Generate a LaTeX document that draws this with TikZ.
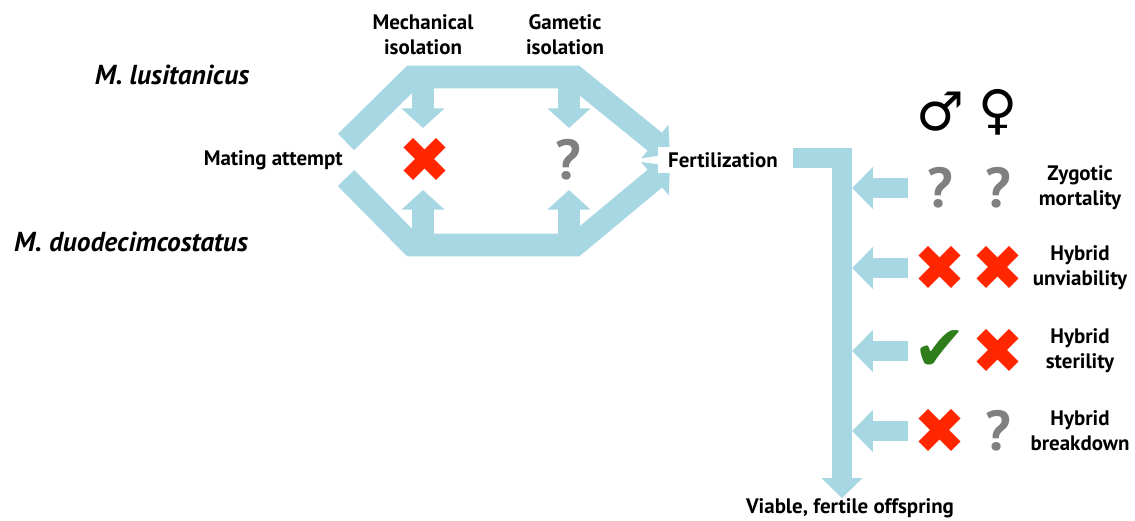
\documentclass[tikz,border=0pt]{standalone}
\usepackage{fontspec}
\setmainfont{PT Sans}
\newfontfamily\symfont{DejaVu Sans}
\usetikzlibrary{arrows.meta}
\definecolor{bandblue}{RGB}{166,215,227}
\definecolor{nored}{RGB}{255,38,0}
\definecolor{qgray}{RGB}{128,128,128}
\definecolor{okgreen}{RGB}{46,125,26}

\begin{document}
\begin{tikzpicture}[x=0.025cm, y=-0.025cm,
    band/.style={draw=bandblue, line width=16.3pt, line join=miter},
    bandtip/.style={-{Triangle[width=30pt,length=14pt]}},
    bar/.style={draw=bandblue, line width=14.2pt, line join=miter, -{Triangle[width=28.4pt,length=14.2pt]}},
    stub/.style={draw=bandblue, line width=14.9pt, -{Triangle[width=29pt,length=14.9pt]}},
    lbl/.style={font=\bfseries\fontsize{14.9}{18}\selectfont, align=center, inner sep=0pt},
    species/.style={font=\bfseries\itshape\fontsize{19.5}{22}\selectfont, inner sep=0pt},
    sexsym/.style={font=\symfont\bfseries\fontsize{38}{40}\selectfont, inner sep=0pt},
    markq/.style={font=\bfseries\fontsize{40}{42}\selectfont, text=qgray, inner sep=0pt, node contents={?}},
    markx/.style={font=\symfont\fontsize{45}{47}\selectfont, text=nored, inner sep=0pt, node contents={✖}},
    markc/.style={font=\symfont\fontsize{45}{47}\selectfont, text=okgreen, inner sep=0pt, node contents={✔}}]
  \useasboundingbox (0,0) rectangle (1135,520);

  % Species and stages
  \node[species] (lus) at (172,75) {M. lusitanicus};
  \node[species] (duo) at (131,242) {M. duodecimcostatus};
  \node[lbl, anchor=east] (mating) at (343,160) {Mating attempt};
  \node[lbl] (mech) at (423,35) {Mechanical\\isolation};
  \node[lbl] (gam) at (565,35) {Gametic\\isolation};

  % Two routes from mating attempt to fertilization
  \coordinate (ua) at (346,142);
  \coordinate (ub) at (670,154);
  \coordinate (la) at (346,178);
  \coordinate (lb) at (670,166);
  \draw[band, bandtip] (ua) -- (412,77) -- (575,77) -- (ub);
  \draw[band, bandtip] (la) -- (412,245) -- (575,245) -- (lb);
  \foreach \x in {423,569}{
    \draw[band, bandtip] (\x,77) -- (\x,128);
    \draw[band, bandtip] (\x,245) -- (\x,190);
  }
  \node (mechx) at (425,160) [markx];
  \node (gamq) at (568,160) [markq];

  \node[lbl, anchor=west, fill=white, inner xsep=7pt, inner ysep=4pt] (fert) at (658,160) {Fertilization};

  % Postzygotic barriers
  \node[lbl] (viable) at (850,508) {Viable, fertile offspring};
  \coordinate (top) at (793,158);
  \draw[bar] (top) -- (842,158) -- (viable.north -| 842,0);
  \node[sexsym] (male) at (940,112) {♂};
  \node[sexsym] (female) at (998,112) {♀};
  \foreach \y/\m/\f/\txt [count=\i] in {188/q/q/Zygotic\\mortality,
      268/x/x/Hybrid\\unviability, 351/c/x/Hybrid\\sterility, 431/x/q/Hybrid\\breakdown}{
    \coordinate (s\i) at (908,\y);
    \coordinate (t\i) at (852,\y);
    \draw[stub] (s\i) -- (t\i);
    \node (m\i) at (940,\y) [mark\m];
    \node (f\i) at (998,\y) [mark\f];
    \node[lbl] (bar\i) at (1080,\y) {\txt};
  }
\end{tikzpicture}
\end{document}
